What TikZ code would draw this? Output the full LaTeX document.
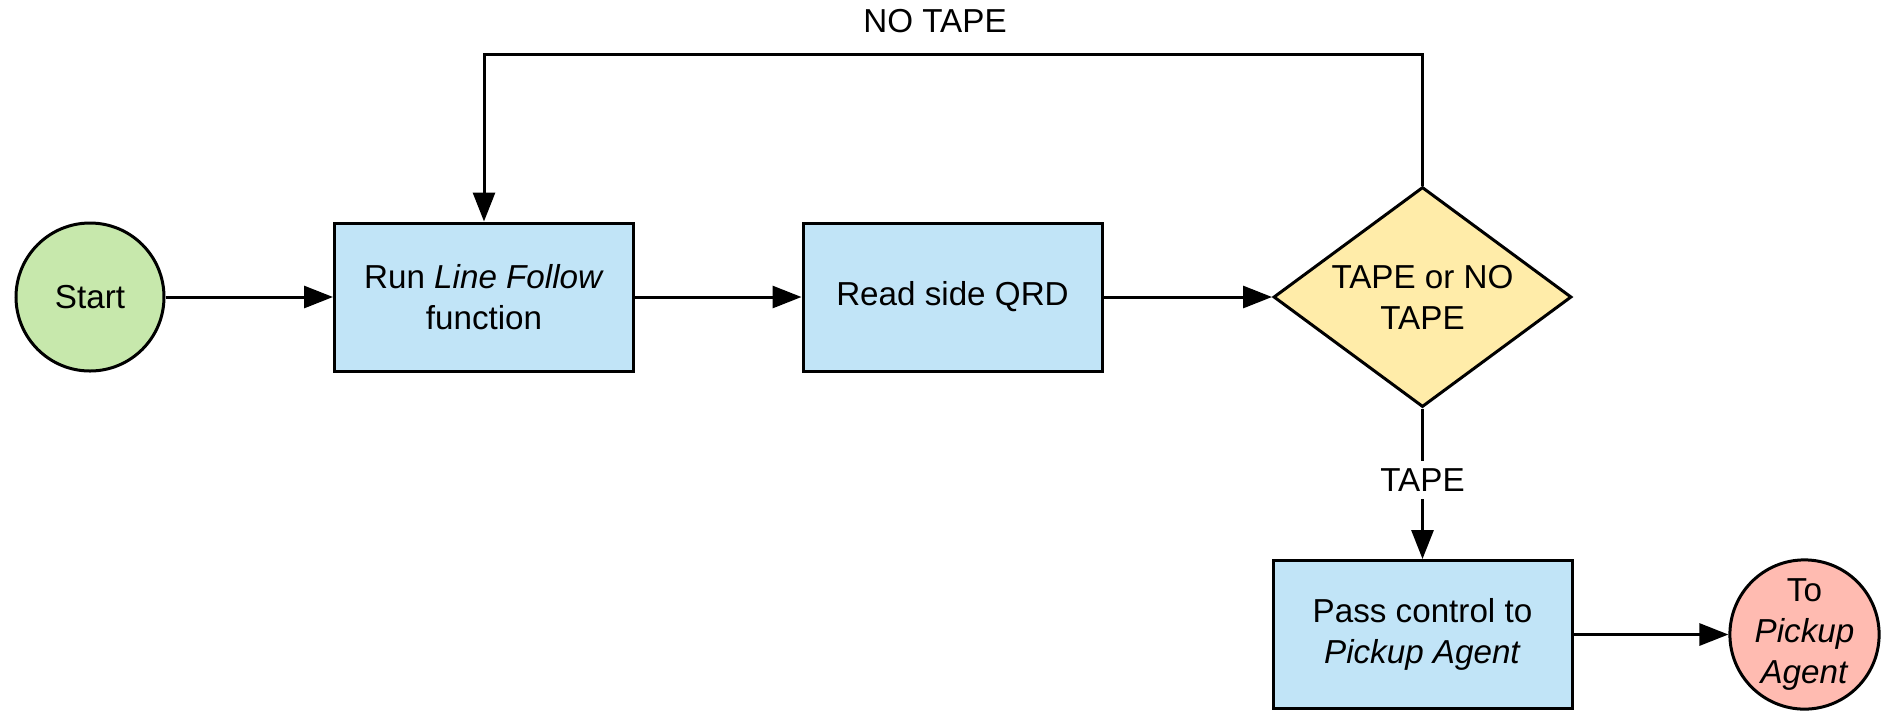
\documentclass[tikz,border=0pt]{standalone}
\usepackage{fontspec}
\setmainfont{Liberation Sans}
\usetikzlibrary{shapes.geometric,arrows.meta}

\definecolor{startgreen}{HTML}{C7E8AC}
\definecolor{procblue}{HTML}{C1E4F7}
\definecolor{testyellow}{HTML}{FFECA9}
\definecolor{goalred}{HTML}{FFBBB1}

\begin{document}
\begin{tikzpicture}[x=0.5pt,y=-0.5pt,
  every node/.style={font=\fontsize{16.6}{20.4}\selectfont,align=center},
  term/.style={circle,draw,line width=1.5pt,minimum size=74pt,inner sep=0pt},
  proc/.style={rectangle,draw,line width=1.5pt,fill=procblue,minimum width=149.5pt,minimum height=74pt,inner sep=0pt},
  test/.style={diamond,draw,line width=1.5pt,fill=testyellow,aspect=1.35,minimum width=149pt,minimum height=110pt,inner sep=0pt},
  flow/.style={-{Triangle[length=14.5pt,width=11pt]},line width=1.5pt}]

\useasboundingbox (0,0) rectangle (1884,725);

\node[term,fill=startgreen] (start) at (90,297) {Start};
\node[proc] (run) at (484,297) {Run \textit{Line Follow}\\function};
\node[proc] (qrd) at (952.5,297) {Read side QRD};
\node[test] (dec) at (1422.5,297) {TAPE or NO\\TAPE};
\node[proc] (pass) at (1422.5,634.5) {Pass control to\\\textit{Pickup Agent}};
\node[term,fill=goalred] (goal) at (1804.5,634.5) {To\\\textit{Pickup}\\\textit{Agent}};

\coordinate (bend) at (953,54);
\node (notape) at (935,21.5) {NO TAPE};

\draw[flow] (start) -- (run);
\draw[flow] (run) -- (qrd);
\draw[flow] (qrd) -- (dec);
\draw[flow] (dec.north) |- (bend) -| (run.north);
\draw[flow] (dec) -- node[fill=white,inner sep=4pt,pos=0.475] (tape) {TAPE} (pass);
\draw[flow] (pass) -- (goal);

\end{tikzpicture}
\end{document}
